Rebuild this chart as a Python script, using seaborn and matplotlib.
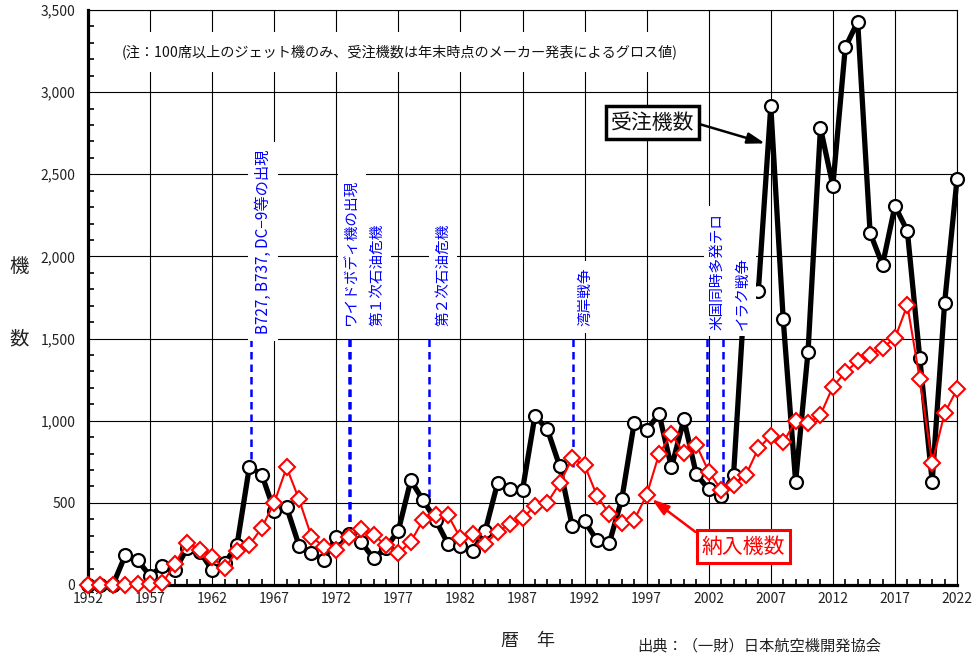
import matplotlib
matplotlib.use("Agg")
import matplotlib.pyplot as plt
import seaborn as sns
import pandas as pd
from matplotlib.ticker import MultipleLocator, FuncFormatter

# ---------------- data ----------------
years = list(range(1952, 2023))
orders = [0, 0, 0, 180, 150, 55, 118, 90, 225, 203,
          92, 132, 241, 720, 672, 452, 473, 240, 195, 152,
          295, 310, 262, 162, 225, 331, 637, 515, 396, 250,
          237, 209, 331, 623, 582, 578, 1029, 948, 722, 359,
          388, 272, 258, 523, 988, 943, 1041, 716, 1008, 674,
          582, 542, 670, 1900, 1792, 2915, 1617, 629, 1420, 2783,
          2430, 3272, 3429, 2144, 1948, 2307, 2155, 1383, 629, 1715,
          2471]
deliveries = [0, 0, 0, 0, 5, 5, 12, 128, 258, 213,
              168, 101, 207, 243, 349, 500, 716, 521, 294, 233,
              213, 290, 340, 304, 243, 193, 264, 396, 426, 426,
              284, 310, 250, 324, 371, 406, 481, 501, 619, 771,
              730, 543, 432, 375, 396, 548, 797, 919, 801, 853,
              690, 580, 609, 670, 832, 908, 868, 998, 984, 1035,
              1207, 1294, 1363, 1400, 1445, 1501, 1704, 1254, 741, 1045,
              1191]
x_ticks = list(range(1952, 2023, 5))
y_ticks = list(range(0, 3501, 500))

event_labels = ["B727, B737, DC−9等の出現", "ワイドボディ機の出現", "第１次石油危機",
                "第２次石油危機", "湾岸戦争", "米国同時多発テロ", "イラク戦争"]
note_text = "(注：100席以上のジェット機のみ、受注機数は年末時点のメーカー発表によるグロス値)"
orders_label = "受注機数"
deliv_label = "納入機数"
source_text = "出典：（一財）日本航空機開発協会"

df = pd.DataFrame({"year": years, "orders": orders, "deliveries": deliveries})

# ---------------- style ----------------
sns.set_style("white")
plt.rcParams["font.family"] = ["Noto Sans CJK JP", "DejaVu Sans"]
plt.rcParams["axes.unicode_minus"] = False

fig = plt.figure(figsize=(9.73, 6.56), dpi=100)
ax = fig.add_axes([88 / 973, 1 - 585 / 656, (957 - 88) / 973, (585 - 10) / 656])

# grid
ax.set_xlim(1952, 2022)
ax.set_ylim(0, 3500)
ax.set_xticks(x_ticks)
ax.set_yticks(y_ticks)
ax.xaxis.set_minor_locator(MultipleLocator(1))
ax.yaxis.set_minor_locator(MultipleLocator(100))
ax.grid(True, which="major", color="black", lw=0.8, zorder=0.5)
ax.set_axisbelow(True)
ax.yaxis.set_major_formatter(FuncFormatter(lambda v, p: f"{int(v):,}"))
ax.tick_params(axis="both", which="major", length=0, labelsize=10, colors="#222222")
ax.tick_params(axis="y", which="major", pad=9)
ax.tick_params(axis="x", which="major", pad=5)
ax.tick_params(axis="both", which="minor", direction="in", length=4, width=1.2, color="black")
ax.tick_params(axis="x", which="minor", top=False, bottom=True)
ax.tick_params(axis="y", which="minor", left=True, right=False)
for s in ["left", "bottom"]:
    ax.spines[s].set_linewidth(2.3)
    ax.spines[s].set_color("black")
for s in ["top", "right"]:
    ax.spines[s].set_linewidth(0.8)
    ax.spines[s].set_color("black")
    ax.spines[s].set_visible(True)

# event lines
ev_lines = [(1965.15, 720), (1973.0, 310), (1973.1, 310), (1979.47, 517),
            (1991.07, 720), (2001.83, 690), (2003.18, 558)]
for xv, yb in ev_lines:
    ax.plot([xv, xv], [1500, yb], color="#0000ff", lw=1.8, ls=(0, (3, 2)), zorder=2.5)

# data lines
sns.lineplot(data=df, x="year", y="orders", ax=ax, color="black", lw=3.8,
             marker="o", ms=9.3, markerfacecolor="white", markeredgecolor="black",
             markeredgewidth=1.6, zorder=3, clip_on=False, legend=False)
sns.lineplot(data=df, x="year", y="deliveries", ax=ax, color="#ff0000", lw=1.5,
             marker="D", ms=7.8, markerfacecolor="white", markeredgecolor="#ff0000",
             markeredgewidth=1.5, zorder=4, clip_on=False, legend=False)
ax.set_xlabel("")
ax.set_ylabel("")

# event labels
lab_pos = [(1966.1, 1530), (1973.27, 1575), (1975.28, 1575), (1980.6, 1575),
           (1992.1, 1575), (2002.7, 1555), (2004.7, 1555)]
lab_size = [11, 10.5, 10.5, 10.5, 10.5, 10.5, 10.5]
for (xv, yv), t, fs in zip(lab_pos, event_labels, lab_size):
    ax.text(xv, yv, t, rotation=90, ha="center", va="bottom", color="#0000ff",
            fontsize=fs, zorder=5,
            bbox=dict(boxstyle="square,pad=0.45", fc="white", ec="none"))

# note
ax.text(1977.1, 3244, note_text, ha="center", va="center", fontsize=10.2,
        color="#111111", zorder=5,
        bbox=dict(boxstyle="square,pad=0.9", fc="white", ec="none"))

# callouts
ax.annotate(orders_label, xy=(2006.54, 2688), xytext=(1997.47, 2815),
            ha="center", va="center", fontsize=15, color="#111111", zorder=6,
            bbox=dict(boxstyle="square,pad=0.25", fc="white", ec="black", lw=2.5),
            arrowprops=dict(arrowstyle="-|>,head_length=0.7,head_width=0.22",
                            color="black", lw=1.8, shrinkA=0, shrinkB=0,
                            relpos=(1, 0.5)))
ax.annotate(deliv_label, xy=(1997.41, 523), xytext=(2004.8, 234),
            ha="center", va="center", fontsize=15, color="#ff0000", zorder=6,
            bbox=dict(boxstyle="square,pad=0.25", fc="white", ec="#ff0000", lw=2.2),
            arrowprops=dict(arrowstyle="-|>,head_length=0.7,head_width=0.22",
                            color="#ff0000", lw=1.8, shrinkA=0, shrinkB=0,
                            relpos=(0.0, 0.95)))

# axis labels
fig.text(19 / 973, 1 - 266 / 656, "機", ha="center", va="center", fontsize=14, color="#222222")
fig.text(19 / 973, 1 - 339 / 656, "数", ha="center", va="center", fontsize=14, color="#222222")
fig.text(528 / 973, 1 - 641 / 656, "暦　年", ha="center", va="center", fontsize=13, color="#222222")
fig.text(637 / 973, 2 / 656, source_text, ha="left", va="bottom", fontsize=11, color="#222222")

fig.savefig("out.png", dpi=100)
